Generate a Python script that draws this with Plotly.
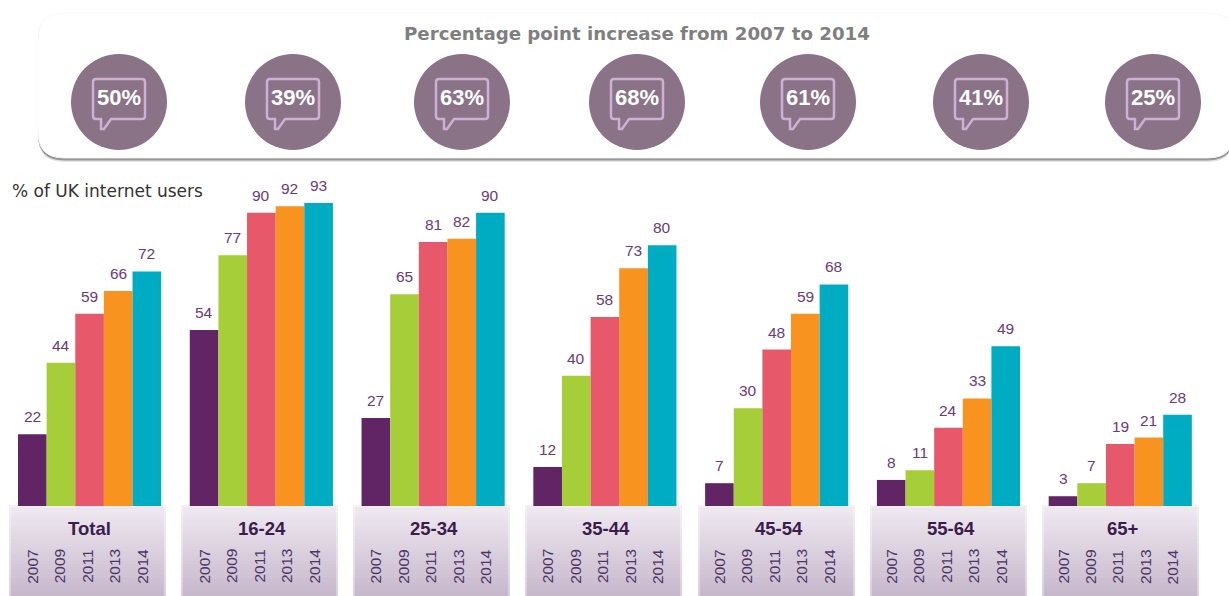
import plotly.graph_objects as go

W, H = 1229, 596
groups = ["Total", "16-24", "25-34", "35-44", "45-54", "55-64", "65+"]
years = ["2007", "2009", "2011", "2013", "2014"]
v2007 = [22, 54, 27, 12, 7, 8, 3]
v2009 = [44, 77, 65, 40, 30, 11, 7]
v2011 = [59, 90, 81, 58, 48, 24, 19]
v2013 = [66, 92, 82, 73, 59, 33, 21]
v2014 = [72, 93, 90, 80, 68, 49, 28]
increase = ["50%", "39%", "63%", "68%", "61%", "41%", "25%"]
colors = ["#612566", "#a6ce39", "#e8586b", "#f7931e", "#00acc1"]
series = [v2007, v2009, v2011, v2013, v2014]
circle_cx = [119, 293, 462, 637, 808, 981, 1153]
box_left = [9, 181, 353, 525, 698, 870, 1042]

BAR_PX = 28.63
X0 = -0.5 - 18 / BAR_PX
PX_PER_UNIT = 3.258
BASE_PX = 506
YMIN = -(H - BASE_PX) / PX_PER_UNIT
YMAX = BASE_PX / PX_PER_UNIT


def px(x):
    return x / W


def py(y):
    return 1 - y / H


def round_path(x0, y0, x1, y1, r):
    X0_, X1_ = px(x0), px(x1)
    Y0_, Y1_ = py(y0), py(y1)
    rx, ry = r / W, r / H
    return (f"M{X0_ + rx},{Y0_} L{X1_ - rx},{Y0_} Q{X1_},{Y0_} {X1_},{Y0_ - ry} "
            f"L{X1_},{Y1_ + ry} Q{X1_},{Y1_} {X1_ - rx},{Y1_} L{X0_ + rx},{Y1_} "
            f"Q{X0_},{Y1_} {X0_},{Y1_ + ry} L{X0_},{Y0_ - ry} Q{X0_},{Y0_} {X0_ + rx},{Y0_} Z")


def bubble_path(cx):
    l, r, t, b, c = cx - 26, cx + 26, 79, 119, 3
    seg = [
        f"M{px(l + c)},{py(t)}", f"L{px(r - c)},{py(t)}", f"Q{px(r)},{py(t)} {px(r)},{py(t + c)}",
        f"L{px(r)},{py(b - c)}", f"Q{px(r)},{py(b)} {px(r - c)},{py(b)}",
        f"L{px(cx - 8)},{py(b)}", f"L{px(cx - 15)},{py(129)}", f"L{px(cx - 18)},{py(129)}", f"L{px(cx - 18)},{py(b)}",
        f"L{px(l + c)},{py(b)}", f"Q{px(l)},{py(b)} {px(l)},{py(b - c)}",
        f"L{px(l)},{py(t + c)}", f"Q{px(l)},{py(t)} {px(l + c)},{py(t)}", "Z",
    ]
    return " ".join(seg)


def mix(a, b, t):
    ca = [int(a[i:i + 2], 16) for i in (1, 3, 5)]
    cb = [int(b[i:i + 2], 16) for i in (1, 3, 5)]
    return "rgb(" + ",".join(str(round(p + (q - p) * t)) for p, q in zip(ca, cb)) + ")"


fig = go.Figure()
shapes = []
ann = []

# panel with shadow
for off, col in [(4, "#e4e4e4"), (2.5, "#9a9a9a"), (1, "#777777")]:
    shapes.append(dict(type="path", xref="paper", yref="paper", path=round_path(38, 13 + off, 1234, 158 + off, 26),
                       fillcolor=col, line_width=0, layer="below"))
shapes.append(dict(type="path", xref="paper", yref="paper", path=round_path(38, 13, 1234, 158, 26),
                   fillcolor="#ffffff", line=dict(color="#f8f8f8", width=1), layer="below"))

# circles, bubbles and percentages
for cx, label in zip(circle_cx, increase):
    cy, r = 102, 48
    shapes.append(dict(type="circle", xref="paper", yref="paper", x0=px(cx - r), x1=px(cx + r), y0=py(cy + r), y1=py(cy - r),
                       fillcolor="#8a7287", line_width=0, layer="below"))
    shapes.append(dict(type="path", xref="paper", yref="paper", path=bubble_path(cx), fillcolor="rgba(0,0,0,0)",
                       line=dict(color="#cdb0d3", width=2.5), layer="below"))
    ann.append(dict(x=px(cx), y=py(97.5), xref="paper", yref="paper", text=f"<b>{label}</b>", showarrow=False,
                    font=dict(family="Liberation Sans", size=22, color="#ffffff"), xanchor="center", yanchor="middle"))

# category boxes
for left, name in zip(box_left, groups):
    n = 30
    y0, y1 = 505, 598
    for k in range(n):
        a = y0 + (y1 - y0) * k / n
        b = y0 + (y1 - y0) * (k + 1) / n + 0.5
        shapes.append(dict(type="rect", xref="paper", yref="paper", x0=px(left), x1=px(left + 157), y0=py(b), y1=py(a),
                           fillcolor=mix("#efe9f1", "#c6b7cb", k / (n - 1)), line_width=0, layer="below"))
    shapes.append(dict(type="rect", xref="paper", yref="paper", x0=px(left + 1), x1=px(left + 156), y0=py(599), y1=py(506),
                       fillcolor="rgba(0,0,0,0)", line=dict(color="rgba(255,255,255,0.35)", width=2), layer="below"))
    ann.append(dict(x=px(left + 80.5), y=py(528), xref="paper", yref="paper", text=f"<b>{name}</b>", showarrow=False,
                    font=dict(family="Liberation Sans", size=18.5, color="#3b1c4b"), xanchor="center", yanchor="middle"))

# bars, one trace per year
for i, (yr, vals, col) in enumerate(zip(years, series, colors)):
    xs = [g * 6 + i for g in range(len(groups))]
    fig.add_trace(go.Bar(x=xs, y=vals, width=1, name=yr, marker=dict(color=col, line_width=0), showlegend=False))
    for g, (x, v) in enumerate(zip(xs, vals)):
        ann.append(dict(x=x, y=v, xref="x", yref="y", yshift=17.5, text=str(v), showarrow=False,
                        font=dict(family="Liberation Sans", size=15.5, color="#6b3a78"), xanchor="center", yanchor="middle"))
        ann.append(dict(x=g * 6 + i * 0.96, y=py(566.5), xref="x", yref="paper", text=yr, textangle=-90, showarrow=False,
                        font=dict(family="Liberation Sans", size=15.5, color="#4d3566"), xanchor="center", yanchor="middle"))

ann.append(dict(x=px(637), y=py(34), xref="paper", yref="paper", text="<b>Percentage point increase from 2007 to 2014</b>",
                showarrow=False, font=dict(family="DejaVu Sans", size=18.2, color="#7f7f7f"), xanchor="center", yanchor="middle"))
ann.append(dict(x=px(10), y=py(191), xref="paper", yref="paper", text="% of UK internet users", showarrow=False,
                font=dict(family="DejaVu Sans", size=17, color="#333333"), xanchor="left", yanchor="middle"))

fig.update_layout(
    width=W, height=H, margin=dict(l=0, r=0, t=0, b=0), paper_bgcolor="#ffffff", plot_bgcolor="rgba(0,0,0,0)",
    barmode="overlay", shapes=shapes, annotations=ann,
    xaxis=dict(range=[X0, X0 + W / BAR_PX], visible=False, fixedrange=True),
    yaxis=dict(range=[YMIN, YMAX], visible=False, fixedrange=True),
)
fig.write_html("out.html", config={"displayModeBar": False},
               post_script="document.body.style.margin='0';document.documentElement.style.overflow='hidden';")
